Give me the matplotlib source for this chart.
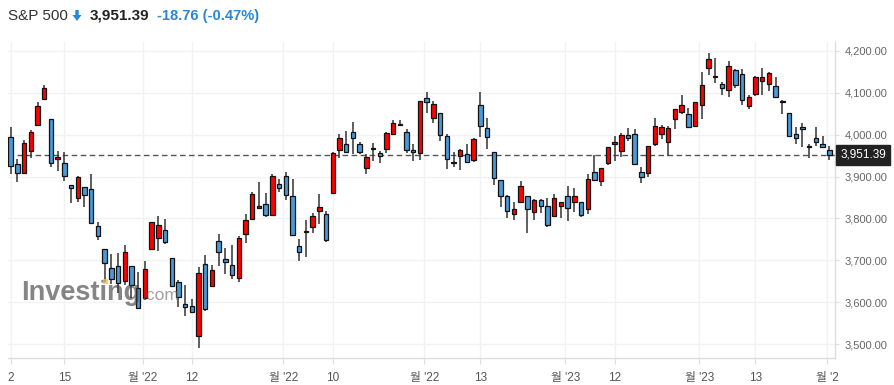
import matplotlib
matplotlib.use('Agg')
import matplotlib.pyplot as plt
from matplotlib.patches import Polygon, Rectangle
import pandas as pd
import numpy as np

# ---------------- data ----------------
holidays = ['2022-09-05', '2022-11-24', '2022-12-26', '2023-01-02', '2023-01-16', '2023-02-20']
dates = pd.bdate_range('2022-09-02', '2023-03-01', freq='C', holidays=holidays)

opens = [3994.66, 3930.89, 3909.43, 3959.94, 4022.94, 4083.67, 4037.12, 3940.73, 3932.41, 3880.95,
         3849.91, 3875.23, 3871.40, 3782.36, 3727.14, 3682.72, 3686.44, 3651.94, 3687.01, 3633.48,
         3609.78, 3726.46, 3753.25, 3771.97, 3706.74, 3647.51, 3595.86, 3590.83, 3520.37, 3690.41,
         3638.65, 3746.26, 3703.11, 3689.05, 3657.10, 3762.01, 3799.44, 3825.97, 3834.69, 3808.26,
         3881.85, 3901.79, 3852.90, 3733.25, 3766.98, 3780.71, 3817.02, 3810.94, 3859.89, 3963.72,
         3977.97, 4006.41, 3976.82, 3919.26, 3966.39, 3956.23, 3965.51, 4000.30, 4023.34, 4005.36,
         3964.19, 3957.18, 4087.14, 4040.17, 4052.02, 3996.63, 3933.28, 3947.79, 3954.17, 3939.29,
         4069.38, 4015.54, 3958.37, 3890.91, 3853.79, 3810.47, 3839.49, 3853.26, 3815.11, 3843.34,
         3829.56, 3805.45, 3829.06, 3853.29, 3840.36, 3839.74, 3823.37, 3910.82, 3888.57, 3932.35,
         3977.57, 3960.60, 3999.28, 4002.25, 3911.84, 3909.04, 3978.14, 4001.74, 3982.71, 4036.08,
         4053.72, 4049.27, 4020.85, 4070.07, 4158.68, 4136.69, 4119.57, 4105.35, 4153.47, 4144.25,
         4068.92, 4096.62, 4126.70, 4119.50, 4114.75, 4077.39, 4052.35, 4001.83, 4018.60, 3973.24,
         3992.36, 3977.19, 3963.34]
highs = [4018.43, 3942.55, 3987.89, 4010.50, 4076.81, 4119.28, 4037.12, 3961.94, 3959.14, 3880.95,
         3900.45, 3876.01, 3907.07, 3790.68, 3727.14, 3715.67, 3717.53, 3736.74, 3687.01, 3671.44,
         3698.35, 3791.92, 3806.91, 3797.93, 3706.74, 3652.17, 3640.66, 3608.34, 3685.41, 3712.00,
         3689.73, 3762.79, 3728.58, 3736.00, 3757.89, 3810.74, 3862.85, 3886.15, 3859.95, 3905.42,
         3893.73, 3911.79, 3894.44, 3750.59, 3796.34, 3813.95, 3859.40, 3818.20, 3958.33, 4001.48,
         4008.97, 4028.84, 3983.09, 3954.33, 3979.89, 3962.00, 4005.88, 4033.78, 4034.02, 4012.27,
         3976.77, 4080.11, 4100.51, 4080.48, 4052.45, 4001.51, 3957.57, 3966.65, 3977.02, 3990.71,
         4100.96, 4039.48, 3958.37, 3890.91, 3854.86, 3838.24, 3889.28, 3853.26, 3845.80, 3846.65,
         3848.32, 3858.19, 3839.85, 3878.46, 3873.16, 3839.74, 3906.19, 3950.57, 3919.83, 3970.07,
         3997.76, 4003.95, 4015.39, 4014.16, 3922.94, 3972.96, 4039.31, 4023.92, 4019.55, 4061.57,
         4094.21, 4063.85, 4077.16, 4148.95, 4195.44, 4182.36, 4124.63, 4176.54, 4156.85, 4156.23,
         4094.36, 4138.90, 4159.77, 4148.11, 4136.54, 4081.51, 4052.35, 4017.37, 4028.30, 3978.25,
         4018.05, 3997.50, 3971.73]
lows = [3906.21, 3886.75, 3906.03, 3944.81, 4022.94, 4083.67, 3921.56, 3912.28, 3888.28, 3837.08,
        3838.50, 3827.54, 3789.49, 3749.45, 3647.47, 3644.76, 3623.29, 3640.61, 3610.40, 3584.13,
        3604.93, 3726.46, 3722.66, 3739.22, 3636.66, 3588.10, 3568.45, 3573.86, 3491.58, 3579.68,
        3638.65, 3686.53, 3666.51, 3656.44, 3647.42, 3741.65, 3799.44, 3824.07, 3803.79, 3808.26,
        3863.18, 3843.80, 3758.68, 3698.15, 3708.84, 3764.70, 3786.28, 3744.22, 3859.89, 3944.82,
        3956.40, 3953.17, 3954.34, 3906.54, 3935.98, 3933.34, 3956.88, 3998.66, 4020.76, 3955.77,
        3937.65, 3938.58, 4050.87, 4026.63, 3984.49, 3918.39, 3922.68, 3916.54, 3933.04, 3935.30,
        3993.03, 3965.65, 3879.45, 3827.91, 3800.04, 3795.62, 3839.49, 3764.49, 3797.01, 3813.22,
        3780.78, 3805.45, 3800.34, 3794.33, 3815.77, 3802.42, 3809.56, 3890.42, 3877.29, 3928.54,
        3937.56, 3947.67, 3984.57, 3926.59, 3885.54, 3897.86, 3971.64, 3989.79, 3949.06, 4013.29,
        4048.70, 4015.55, 4020.44, 4037.20, 4141.88, 4123.36, 4093.38, 4088.39, 4111.67, 4069.67,
        4060.79, 4092.67, 4095.01, 4103.98, 4089.49, 4047.95, 3995.19, 3976.90, 3969.19, 3943.08,
        3973.55, 3968.98, 3939.05]
closes = [3924.26, 3908.19, 3979.87, 4006.18, 4067.36, 4110.41, 3932.69, 3946.01, 3901.35, 3873.33,
          3899.89, 3855.93, 3789.93, 3757.99, 3693.23, 3655.04, 3647.29, 3719.04, 3640.47, 3585.62,
          3678.43, 3790.93, 3783.28, 3744.52, 3639.66, 3612.39, 3588.84, 3577.03, 3669.91, 3583.07,
          3677.95, 3719.98, 3695.16, 3665.78, 3752.75, 3797.34, 3859.11, 3830.60, 3807.30, 3901.06,
          3871.98, 3856.10, 3759.69, 3719.89, 3770.55, 3806.80, 3828.11, 3748.57, 3956.37, 3992.93,
          3957.25, 3991.73, 3958.79, 3946.56, 3965.34, 3949.94, 4003.58, 4027.26, 4026.12, 3963.94,
          3957.63, 4080.11, 4076.57, 4071.70, 3998.84, 3941.26, 3933.92, 3963.51, 3934.38, 3990.56,
          4019.65, 3995.32, 3895.75, 3852.36, 3817.66, 3821.62, 3878.44, 3822.39, 3844.82, 3829.25,
          3783.22, 3849.28, 3839.50, 3824.14, 3852.97, 3808.10, 3895.08, 3892.09, 3919.25, 3969.61,
          3983.17, 3999.09, 3990.97, 3928.86, 3898.85, 3972.61, 4019.81, 4016.95, 4016.22, 4060.43,
          4070.56, 4017.77, 4076.60, 4119.21, 4179.76, 4136.48, 4111.08, 4164.00, 4117.86, 4081.50,
          4090.46, 4137.29, 4136.13, 4147.60, 4090.41, 4079.09, 3997.34, 3991.05, 4012.32, 3970.04,
          3982.24, 3970.15, 3951.39]

last_price = 3951.39
change_text = "-18.76 (-0.47%)"
title_text = "S&P 500"
y_ticks = [3500, 3600, 3700, 3800, 3900, 4000, 4100, 4200]
tick_dates = ['2022-09-02', '2022-09-15', '2022-10-03', '2022-10-12', '2022-11-01', '2022-11-10',
              '2022-12-01', '2022-12-13', '2023-01-03', '2023-01-12', '2023-02-01', '2023-02-13',
              '2023-03-01']
tick_labels = ["2", "15", "월 '22", "12", "월 '22", "10", "월 '22", "13", "월 '23", "12", "월 '23", "13", "월 '2"]

# ---------------- figure ----------------
W, H = 895, 385
fig = plt.figure(figsize=(W/100, H/100), dpi=100)
fig.patch.set_facecolor('white')
ax = fig.add_axes([8/W, 27/H, (835-8)/W, (358-42)/H])

x = np.arange(len(dates))
o = np.array(opens); h = np.array(highs); l = np.array(lows); c = np.array(closes)
up = c >= o
colors = np.where(up, '#ff0000', '#4a9ad8')
heights = np.maximum(np.abs(c - o), 2.5)
bottoms = np.minimum(o, c)

ax.vlines(x, l, h, color='#333333', linewidth=1.1, zorder=2)
ax.bar(x, heights, bottom=bottoms, width=0.66, color=colors, edgecolor='#111111',
       linewidth=0.9, zorder=3)

ax.axhline(last_price, color='#555555', linewidth=1.0, dashes=(4, 2.5), zorder=1.5)

ax.set_xlim(-0.4, 122.85)
ax.set_ylim(3467.3, 4220.7)

ax.yaxis.tick_right()
ax.set_yticks(y_ticks)
ax.set_yticklabels([f"{v:,.2f}" for v in y_ticks])

pos = []
for d, lab in zip(tick_dates, tick_labels):
    i = dates.get_loc(pd.Timestamp(d))
    if '월' in lab:
        i -= 0.35
    pos.append(i)
ax.set_xticks(pos)
ax.set_xticklabels(tick_labels)

tick_font = ['Liberation Sans', 'Noto Sans CJK KR']
for t in ax.get_xticklabels():
    t.set_fontfamily(tick_font)
    t.set_fontsize(8.5)
    t.set_color('#555555')
for t in ax.get_yticklabels():
    t.set_fontfamily(tick_font)
    t.set_fontsize(8)
    t.set_color('#666666')

ax.tick_params(axis='x', length=4, color='#dddddd', pad=6)
ax.tick_params(axis='y', length=3, color='#dddddd', pad=4)

ax.grid(True, color='#f2f2f2', linewidth=1.0, zorder=0)
ax.set_axisbelow(True)
for s in ['top', 'left']:
    ax.spines[s].set_visible(False)
for s in ['right', 'bottom']:
    ax.spines[s].set_color('#dddddd')
    ax.spines[s].set_linewidth(1.0)

# price box on the right axis
ax.annotate(f"{last_price:,.2f}", xy=(1.0, last_price), xycoords=('axes fraction', 'data'),
            xytext=(4, 0), textcoords='offset points', ha='left', va='center',
            fontsize=8.5, color='white', family='Liberation Sans',
            bbox=dict(boxstyle='square,pad=0.35', fc='#222222', ec='#222222'),
            annotation_clip=False, zorder=10)

# header
def px(xp, yp):
    return (xp / W, 1 - yp / H)

fy = 1 - 16/H
fig.text(8/W, fy, title_text, fontsize=11, color='#333333', family='Liberation Sans',
         va='center', ha='left')
arrow = Polygon([px(75.3, 10), px(78.7, 10), px(78.7, 15), px(81.5, 15), px(77, 21),
                 px(72.5, 15), px(75.3, 15)], closed=True, transform=fig.transFigure,
                facecolor='#2a87d6', edgecolor='none')
fig.patches.append(arrow)
fig.text(90/W, fy, f"{last_price:,.2f}", fontsize=11, color='#222222', weight='bold',
         family='Liberation Sans', va='center', ha='left')
fig.text(157/W, fy, change_text, fontsize=10.5, color='#2a87d6', weight='bold',
         family='Liberation Sans', va='center', ha='left')

# watermark
fig.text(21/W, 1 - 300/H, "Investing", fontsize=19.5, weight='bold', color='#3a3a3a',
         alpha=0.62, family='Liberation Sans', va='baseline', ha='left', zorder=20)
fig.text(141/W, 1 - 300/H, ".com", fontsize=12.5, color='#666666', alpha=0.62,
         family='Liberation Sans', va='baseline', ha='left', zorder=20)
dot = Rectangle(px(103, 284), 5/W, 5/H, transform=fig.transFigure,
                facecolor='#f5b955', edgecolor='none', alpha=0.75, zorder=21)
fig.patches.append(dot)

fig.savefig('out.png', dpi=100, facecolor='white')
